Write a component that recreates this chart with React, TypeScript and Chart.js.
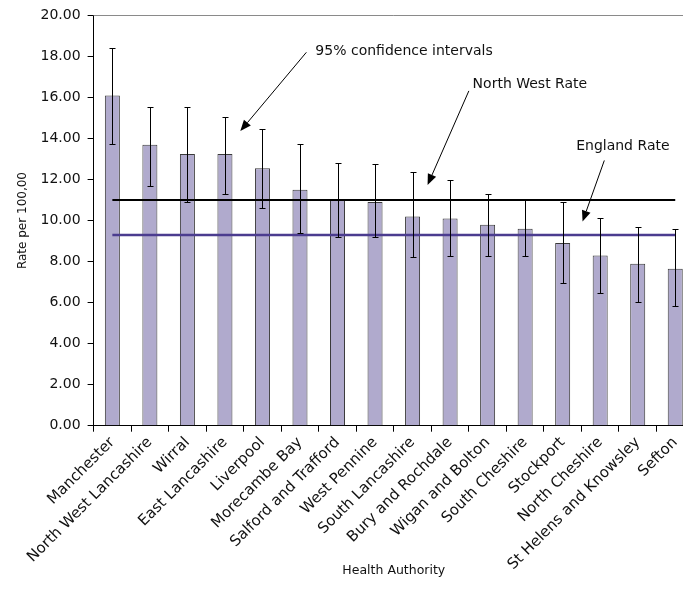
import React, { useEffect, useRef } from "react";
import { Chart, registerables } from "chart.js";

Chart.register(...registerables);

const categories = [
  "Manchester",
  "North West Lancashire",
  "Wirral",
  "East Lancashire",
  "Liverpool",
  "Morecambe Bay",
  "Salford and Trafford",
  "West Pennine",
  "South Lancashire",
  "Bury and Rochdale",
  "Wigan and Bolton",
  "South Cheshire",
  "Stockport",
  "North Cheshire",
  "St Helens and Knowsley",
  "Sefton",
];

const rates = [16.1, 13.7, 13.25, 13.25, 12.55, 11.5, 11.0, 10.9, 10.2, 10.1, 9.8, 9.6, 8.9, 8.3, 7.9, 7.65];
const upperCI = [18.4, 15.55, 15.55, 15.05, 14.45, 13.75, 12.8, 12.75, 12.35, 12.0, 11.3, 11.0, 10.9, 10.1, 9.7, 9.6];
const lowerCI = [13.75, 11.7, 10.9, 11.3, 10.6, 9.4, 9.2, 9.2, 8.2, 8.25, 8.25, 8.25, 6.95, 6.45, 6.05, 5.85];

const northWestRate = 11.0;
const englandRate = 9.3;

const yTicks = { min: 0, max: 20, step: 2 };

// annotation anchors expressed in data space: [category index, value]
const annotationTexts = ["95% confidence intervals", "North West Rate", "England Rate"];
const annotationTextAt = [
  [5.41, 18.27],
  [9.6, 16.66],
  [12.36, 13.61],
];
const annotationFrom = [
  [5.17, 18.2],
  [9.5, 16.32],
  [13.11, 12.93],
];
const annotationTo = [
  [3.41, 14.36],
  [8.4, 11.73],
  [12.53, 9.95],
];

const FONT = "'DejaVu Sans', sans-serif";

export default function App() {
  const ref = useRef<HTMLCanvasElement>(null);

  useEffect(() => {
    if (!ref.current) return;

    const errorBarsPlugin = {
      id: "errorBars",
      afterDatasetsDraw(chart: any) {
        const meta = chart.getDatasetMeta(2);
        const y = chart.scales.y;
        const ctx = chart.ctx;
        ctx.save();
        ctx.strokeStyle = "#000";
        ctx.lineWidth = 1;
        meta.data.forEach((bar: any, i: number) => {
          const x = Math.round(bar.x) + 0.5;
          const yu = Math.round(y.getPixelForValue(upperCI[i])) + 0.5;
          const yl = Math.round(y.getPixelForValue(lowerCI[i])) + 0.5;
          ctx.beginPath();
          ctx.moveTo(x, yu);
          ctx.lineTo(x, yl);
          ctx.moveTo(x - 3, yu);
          ctx.lineTo(x + 3, yu);
          ctx.moveTo(x - 3, yl);
          ctx.lineTo(x + 3, yl);
          ctx.stroke();
        });
        ctx.restore();
      },
    };

    const decorPlugin = {
      id: "decor",
      beforeDatasetsDraw(chart: any) {
        const { ctx, chartArea } = chart;
        ctx.save();
        ctx.strokeStyle = "#8a8a8a";
        ctx.lineWidth = 1;
        ctx.beginPath();
        const t = Math.round(chartArea.top) + 0.5;
        ctx.moveTo(chartArea.left, t);
        ctx.lineTo(chartArea.right, t);
        ctx.stroke();
        ctx.restore();
      },
      afterDraw(chart: any) {
        const { ctx } = chart;
        const xs = chart.scales.x;
        const ys = chart.scales.y;
        ctx.save();
        ctx.fillStyle = "#111";
        ctx.strokeStyle = "#000";
        ctx.lineWidth = 1;
        ctx.font = `14px ${FONT}`;
        ctx.textAlign = "left";
        ctx.textBaseline = "middle";
        annotationTexts.forEach((txt, i) => {
          const tx = xs.getPixelForValue(annotationTextAt[i][0]);
          const ty = ys.getPixelForValue(annotationTextAt[i][1]);
          ctx.fillText(txt, tx, ty);
          const fx = xs.getPixelForValue(annotationFrom[i][0]);
          const fy = ys.getPixelForValue(annotationFrom[i][1]);
          const px = xs.getPixelForValue(annotationTo[i][0]);
          const py = ys.getPixelForValue(annotationTo[i][1]);
          const ang = Math.atan2(py - fy, px - fx);
          const len = 11;
          const hw = 4.5;
          const bx = px - len * Math.cos(ang);
          const by = py - len * Math.sin(ang);
          ctx.beginPath();
          ctx.moveTo(fx, fy);
          ctx.lineTo(bx, by);
          ctx.stroke();
          ctx.beginPath();
          ctx.moveTo(px, py);
          ctx.lineTo(bx + hw * Math.sin(ang), by - hw * Math.cos(ang));
          ctx.lineTo(bx - hw * Math.sin(ang), by + hw * Math.cos(ang));
          ctx.closePath();
          ctx.fillStyle = "#000";
          ctx.fill();
          ctx.fillStyle = "#111";
        });
        ctx.restore();
      },
    };

    const chart = new Chart(ref.current, {
      type: "bar",
      data: {
        labels: categories,
        datasets: [
          {
            type: "line",
            label: "North West Rate",
            data: categories.map(() => northWestRate),
            borderColor: "#000000",
            borderWidth: 2,
            pointRadius: 0,
            order: 1,
          } as any,
          {
            type: "line",
            label: "England Rate",
            data: categories.map(() => englandRate),
            borderColor: "#4b3c8f",
            borderWidth: 2.5,
            pointRadius: 0,
            order: 1,
          } as any,
          {
            type: "bar",
            label: "Rate per 100,000",
            data: rates,
            backgroundColor: "#b0aacd",
            borderColor: "#3a3a3a",
            borderWidth: 1,
            categoryPercentage: 1,
            barPercentage: 0.4,
            order: 2,
          },
        ],
      },
      options: {
        animation: false,
        responsive: true,
        maintainAspectRatio: false,
        layout: { padding: { top: 10.7, left: 0, right: 0, bottom: 0 } },
        plugins: {
          legend: { display: false },
          tooltip: { enabled: false },
        },
        scales: {
          x: {
            offset: true,
            grid: { offset: true, drawOnChartArea: false, tickLength: 6, color: "#000" },
            border: { color: "#000", width: 1 },
            ticks: {
              autoSkip: false,
              minRotation: 45,
              maxRotation: 45,
              padding: 2,
              color: "#111",
              font: { family: FONT, size: 15 },
            },
            title: {
              display: true,
              text: "Health Authority",
              color: "#111",
              font: { family: FONT, size: 12.5 },
              padding: { top: 0, bottom: 12.5 },
            },
            afterFit: (s: any) => {
              s.height = 591 - 425.7;
            },
          },
          y: {
            min: yTicks.min,
            max: yTicks.max,
            grid: { drawOnChartArea: false, tickLength: 6, color: "#000" },
            border: { color: "#000", width: 1 },
            ticks: {
              stepSize: yTicks.step,
              padding: 7,
              color: "#111",
              font: { family: FONT, size: 14 },
              callback: (v: any) => Number(v).toFixed(2),
            },
            title: {
              display: true,
              text: "Rate per 100,00",
              color: "#111",
              font: { family: FONT, size: 12 },
              padding: { top: 16, bottom: 0 },
            },
            afterFit: (s: any) => {
              s.width = 93.6;
            },
          },
        },
      },
      plugins: [errorBarsPlugin, decorPlugin],
    });

    return () => chart.destroy();
  }, []);

  return (
    <div
      style={{
        position: "fixed",
        left: 0,
        top: 0,
        width: 683,
        height: 591,
        overflow: "hidden",
        background: "#fff",
      }}
    >
      <div style={{ position: "relative", width: 694, height: 591 }}>
        <canvas ref={ref} />
      </div>
    </div>
  );
}
